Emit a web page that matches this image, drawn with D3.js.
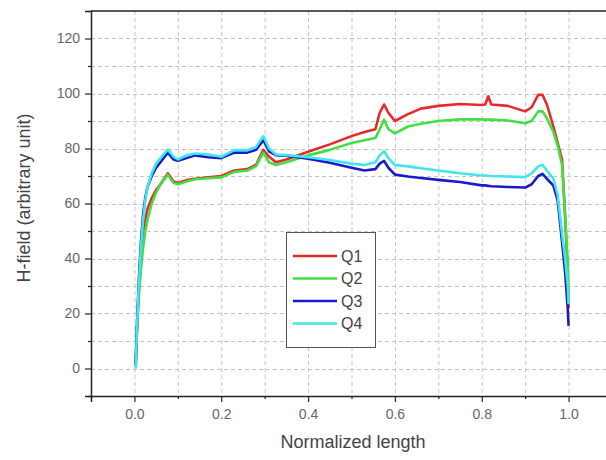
<!DOCTYPE html>
<html>
<head>
<meta charset="utf-8">
<script src="https://cdn.jsdelivr.net/npm/d3@7"></script>
<style>
  body { margin: 0; background: white; }
  #chart-root svg { display: block; font-family: "Liberation Sans", Arial, sans-serif; }
</style>
</head>
<body>
<div id="chart-root"></div>
<script>
// normalized positions along the length (shared by all four quadrants)
const x_values = [0.003, 0.006, 0.01, 0.015, 0.02, 0.025, 0.03, 0.04, 0.05, 0.06, 0.077, 0.09, 0.1, 0.12, 0.14,
  0.17, 0.2, 0.23, 0.26, 0.28, 0.297, 0.31, 0.326, 0.35, 0.4, 0.45, 0.5, 0.53, 0.555, 0.565, 0.575, 0.585, 0.6,
  0.63, 0.66, 0.7, 0.75, 0.8, 0.808, 0.815, 0.822, 0.86, 0.9, 0.915, 0.93, 0.94, 0.95, 0.965, 0.975, 0.985,
  0.992, 0.998, 1.0];

const q1_values = [2, 15, 28, 40, 48, 54, 58, 62, 65, 67, 71, 68, 67.5, 68.5, 69, 69.5, 70, 72, 72.5, 74, 79.5,
  77, 75, 76, 78.8, 81.5, 84.5, 86, 87, 93, 96, 93, 90, 92.5, 94.5, 95.5, 96.2, 95.8, 96, 99, 96, 95.5, 93.5, 95,
  99.5, 99.5, 96, 88, 82, 76, 55, 35, 22];
const q2_values = [2, 14, 26, 36, 44, 50, 54, 60, 64, 67, 70.5, 67.5, 67, 68, 68.8, 69.2, 69.5, 71.5, 72, 73.5,
  78.5, 75, 74, 75, 77.5, 79.5, 82, 83, 83.8, 87, 90.5, 87, 85.5, 88, 89, 90, 90.6, 90.6, 90.5, 90.5, 90.5, 90.2,
  89.2, 90, 93.5, 93.5, 91, 86, 81, 74, 56, 38, 24];
const q3_values = [1, 16, 32, 46, 56, 62, 66, 70, 73, 75, 78.5, 76, 75.5, 76.5, 77.5, 76.8, 76.5, 78.5, 78.5,
  79.5, 83, 79, 77.6, 77.4, 76.3, 74.8, 73, 72, 72.5, 74.5, 75.5, 73, 70.5, 69.8, 69.3, 68.6, 67.8, 66.6, 66.6,
  66.4, 66.3, 66, 65.8, 67, 70, 70.8, 69, 66.5, 61, 46, 35, 22, 15.5];
const q4_values = [0, 15, 30, 44, 54, 61, 66, 71, 74.5, 76.5, 79.6, 77, 76, 77.5, 78.2, 77.8, 77, 79.4, 79.4,
  80.5, 84.5, 80, 77.8, 77.6, 76.8, 75.8, 74.5, 74, 75, 77.5, 79, 76.5, 74, 73.5, 72.8, 72, 71, 70.2, 70.2, 70.1,
  70, 69.8, 69.6, 71, 73.5, 74, 72, 69, 63, 49, 40, 30, 23.4];

const series_names = ['Q1', 'Q2', 'Q3', 'Q4'];
const series_colors = ['#e8292b', '#3fe03f', '#1a1ac8', '#3fe6ec'];

const x_ticks = [0.0, 0.2, 0.4, 0.6, 0.8, 1.0];
const y_ticks = [0, 20, 40, 60, 80, 100, 120];

var width = 606, height = 460;
var plot = {left: 91, right: 612, top: 11, bottom: 396};

var svg = d3.select('#chart-root')
    .append('svg')
    .attr('width', width)
    .attr('height', height);

var x_scale = d3.scaleLinear().domain([-0.1, 1.1]).range([plot.left, plot.right]);
var y_scale = d3.scaleLinear().domain([-10, 130]).range([plot.bottom, plot.top]);

// grid at every minor step
var grid = svg.append('g').attr('class', 'grid')
    .attr('stroke', '#c4c4c4').attr('stroke-width', 1).attr('stroke-dasharray', '4,3');
grid.selectAll('line.gx')
    .data(d3.range(0, 11).map(i => i / 10))
    .join('line')
    .attr('x1', d => x_scale(d) + 0.5).attr('x2', d => x_scale(d) + 0.5)
    .attr('y1', plot.top).attr('y2', plot.bottom);
grid.selectAll('line.gy')
    .data(d3.range(0, 13).map(i => i * 10))
    .join('line')
    .attr('y1', d => Math.round(y_scale(d)) + 0.5).attr('y2', d => Math.round(y_scale(d)) + 0.5)
    .attr('x1', plot.left).attr('x2', plot.right);

// axes
svg.append('g')
    .attr('transform', 'translate(0,' + plot.bottom + ')')
    .call(d3.axisBottom(x_scale).tickValues(x_ticks).tickFormat(d3.format('.1f')).tickSize(6).tickPadding(7));
svg.append('g')
    .attr('transform', 'translate(0,' + plot.bottom + ')')
    .call(d3.axisBottom(x_scale).tickValues(d3.range(-1, 12, 2).map(i => i / 10)).tickFormat('').tickSize(3))
    .select('.domain').remove();

svg.append('g')
    .attr('transform', 'translate(' + plot.left + ',0)')
    .call(d3.axisLeft(y_scale).tickValues(y_ticks).tickSize(6).tickPadding(5));
svg.append('g')
    .attr('transform', 'translate(' + plot.left + ',0)')
    .call(d3.axisLeft(y_scale).tickValues(d3.range(-10, 131, 20)).tickFormat('').tickSize(3))
    .select('.domain').remove();

svg.selectAll('.domain').attr('stroke', '#222').attr('stroke-width', 1.5);
svg.selectAll('.tick line').attr('stroke', '#222').attr('stroke-width', 1.2);
svg.selectAll('.tick text').attr('fill', '#666').style('font-size', '14px')
    .style('font-family', '"Liberation Sans", Arial, sans-serif');

svg.append('line')
    .attr('x1', plot.left).attr('x2', plot.right)
    .attr('y1', plot.top).attr('y2', plot.top)
    .attr('stroke', '#222').attr('stroke-width', 1.5);

// curves
var line = d3.line()
    .x((d, i) => x_scale(x_values[i]))
    .y(d => y_scale(d));

var all_series = [q1_values, q2_values, q3_values, q4_values];
svg.append('g').attr('class', 'curves')
    .selectAll('path')
    .data(all_series)
    .join('path')
    .attr('d', line)
    .attr('fill', 'none')
    .attr('stroke', (d, i) => series_colors[i])
    .attr('stroke-width', 2.6)
    .attr('stroke-linejoin', 'round');

// legend
var legend = svg.append('g').attr('transform', 'translate(286,232)');
legend.append('rect')
    .attr('x', 0.5).attr('y', 0.5).attr('width', 89).attr('height', 115)
    .attr('fill', 'white').attr('stroke', '#555').attr('stroke-width', 1);
var rows = legend.selectAll('g.row')
    .data(series_names)
    .join('g')
    .attr('transform', (d, i) => 'translate(0,' + (24 + i * 22.5) + ')');
rows.append('line')
    .attr('x1', 7).attr('x2', 51)
    .attr('stroke', (d, i) => series_colors[i])
    .attr('stroke-width', 2.6);
rows.append('text')
    .attr('x', 55).attr('dy', '0.35em')
    .attr('fill', '#444').style('font-size', '16px')
    .text(d => d);

// axis titles
svg.append('text')
    .attr('x', 353).attr('y', 448)
    .attr('text-anchor', 'middle')
    .attr('fill', '#444').style('font-size', '18px')
    .text('Normalized length');
svg.append('text')
    .attr('transform', 'translate(30,198) rotate(-90)')
    .attr('text-anchor', 'middle')
    .attr('fill', '#444').style('font-size', '18px')
    .text('H-field (arbitrary unit)');
</script>
</body>
</html>
